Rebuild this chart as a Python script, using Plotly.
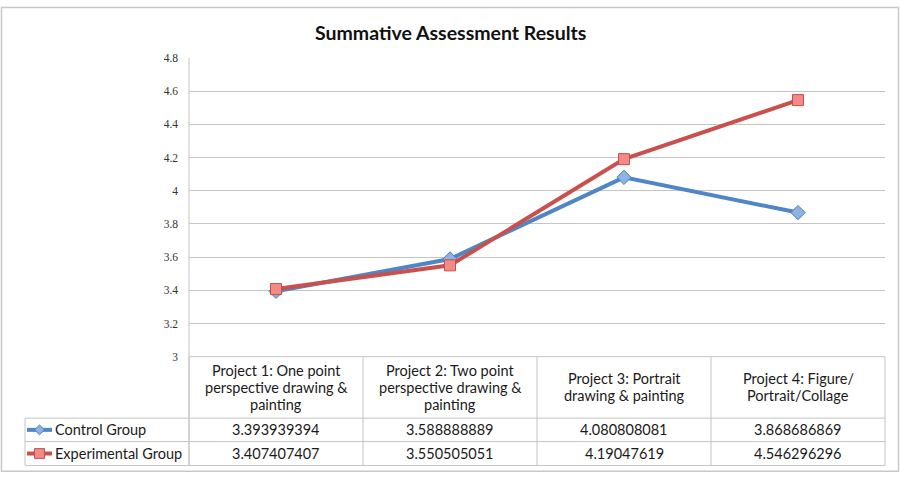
import plotly.graph_objects as go

title = "Summative Assessment Results"
categories = [
    "Project 1: One point<br>perspective drawing &<br>painting",
    "Project 2: Two point<br>perspective drawing &<br>painting",
    "Project 3: Portrait<br>drawing & painting",
    "Project 4: Figure/<br>Portrait/Collage",
]
series_names = ["Control Group", "Experimental Group"]
control = [3.393939394, 3.588888889, 4.080808081, 3.868686869]
experimental = [3.407407407, 3.550505051, 4.19047619, 4.546296296]
y_ticks = [3, 3.2, 3.4, 3.6, 3.8, 4, 4.2, 4.4, 4.6, 4.8]

W, H = 900, 490
def px(x): return x / W
def py(y): return 1 - y / H

# layout in pixels
PL, PR, PT, PB = 189, 885, 53.3, 359.5
ROW1, ROW2, ROW3 = 422.5, 446.5, 471
LBL_L = 25
GRID = "#c4c4c4"
BLUE, BLUE_F, BLUE_E = "#4f86c6", "#8db3e2", "#4a7ebb"
RED, RED_F, RED_E = "#c9504d", "#f28b87", "#c0504d"
TXT = "#1a1a1a"
FONT = "Lato"
FS = 14.5
LINE_H = 17.5

xs = list(range(len(categories)))
fig = go.Figure()
fig.add_trace(go.Scatter(x=xs, y=control, mode="lines+markers", name=series_names[0],
                         line=dict(color=BLUE, width=4),
                         marker=dict(symbol="diamond", size=11, color=BLUE_F,
                                     line=dict(color=BLUE_E, width=1))))
fig.add_trace(go.Scatter(x=xs, y=experimental, mode="lines+markers", name=series_names[1],
                         line=dict(color=RED, width=4),
                         marker=dict(symbol="square", size=11, color=RED_F,
                                     line=dict(color=RED_E, width=1))))

shapes = []
def hline(y, x0, x1, color=GRID, w=1):
    shapes.append(dict(type="line", xref="paper", yref="paper", x0=px(x0), x1=px(x1),
                       y0=py(y), y1=py(y), line=dict(color=color, width=w)))
def vline(x, y0, y1, color=GRID, w=1):
    shapes.append(dict(type="line", xref="paper", yref="paper", x0=px(x), x1=px(x),
                       y0=py(y0), y1=py(y1), line=dict(color=color, width=w)))

# table grid
hline(PB, PL, PR)
for y in (ROW1, ROW2, ROW3):
    hline(y, LBL_L, PR)
colw = (PR - PL) / len(categories)
for i in range(len(categories) + 1):
    vline(PL + i * colw, PB, ROW3)
vline(PL, PT, ROW3)
vline(LBL_L, ROW1, ROW3)
# outer frame
shapes.append(dict(type="rect", xref="paper", yref="paper", x0=px(1.5), x1=px(898.5),
                   y0=py(477), y1=py(1.5), line=dict(color="#c8c8c8", width=1.5)))

# legend keys in the table rows
row_centers = [(ROW1 + ROW2) / 2, (ROW2 + ROW3) / 2]
kx0, kx1 = 27, 52
kc = (kx0 + kx1) / 2
yc = row_centers[0]
hline(yc, kx0, kx1, BLUE, 4)
d = 5
shapes.append(dict(type="path", xref="paper", yref="paper",
                   path=f"M {px(kc-d)} {py(yc)} L {px(kc)} {py(yc-d)} L {px(kc+d)} {py(yc)} L {px(kc)} {py(yc+d)} Z",
                   fillcolor=BLUE_F, line=dict(color=BLUE_E, width=1)))
yc = row_centers[1]
hline(yc, kx0, kx1, RED, 4)
s = 5
shapes.append(dict(type="rect", xref="paper", yref="paper", x0=px(kc - s), x1=px(kc + s),
                   y0=py(yc + s), y1=py(yc - s), fillcolor=RED_F, line=dict(color=RED_E, width=1)))

annotations = [dict(text=title, xref="paper", yref="paper", x=px(450), y=py(27),
                    showarrow=False, font=dict(family=FONT, size=19.5, color="#111111", weight="bold"),
                    xanchor="center", yanchor="middle")]
hdr_c = (PB + ROW1) / 2
for i, c in enumerate(categories):
    xc = PL + (i + 0.5) * colw
    lines = c.split("<br>")
    n = len(lines)
    for j, ln in enumerate(lines):
        yl = hdr_c + (j - (n - 1) / 2) * LINE_H
        annotations.append(dict(text=ln, xref="paper", yref="paper", x=px(xc), y=py(yl),
                                showarrow=False, font=dict(family=FONT, size=FS, color=TXT),
                                xanchor="center", yanchor="middle"))
    for vals, yc in zip((control, experimental), row_centers):
        annotations.append(dict(text=str(vals[i]), xref="paper", yref="paper", x=px(xc), y=py(yc),
                                showarrow=False, font=dict(family=FONT, size=FS, color=TXT),
                                xanchor="center", yanchor="middle"))
for name, yc in zip(series_names, row_centers):
    annotations.append(dict(text=name, xref="paper", yref="paper", x=px(53), y=py(yc),
                            showarrow=False, font=dict(family=FONT, size=FS, color=TXT),
                            xanchor="left", yanchor="middle"))

fig.update_layout(
    width=W, height=H, margin=dict(l=0, r=0, t=0, b=0),
    paper_bgcolor="white", plot_bgcolor="white", showlegend=False,
    xaxis=dict(domain=[px(PL), px(PR)], range=[-0.5, len(categories) - 0.5],
               showgrid=False, showticklabels=False, zeroline=False, showline=False),
    yaxis=dict(domain=[py(PB), py(PT)], range=[y_ticks[0], y_ticks[-1]], tickvals=y_ticks,
               showgrid=True, gridcolor=GRID, gridwidth=1, zeroline=False, showline=False,
               ticks="", ticklabelstandoff=10,
               tickfont=dict(family="Liberation Serif", size=11.5, color="#333333")),
    shapes=shapes, annotations=annotations,
)
fig.write_html("out.html", config={"displayModeBar": False},
               post_script="document.body.style.margin='0';document.body.style.overflow='hidden';")
